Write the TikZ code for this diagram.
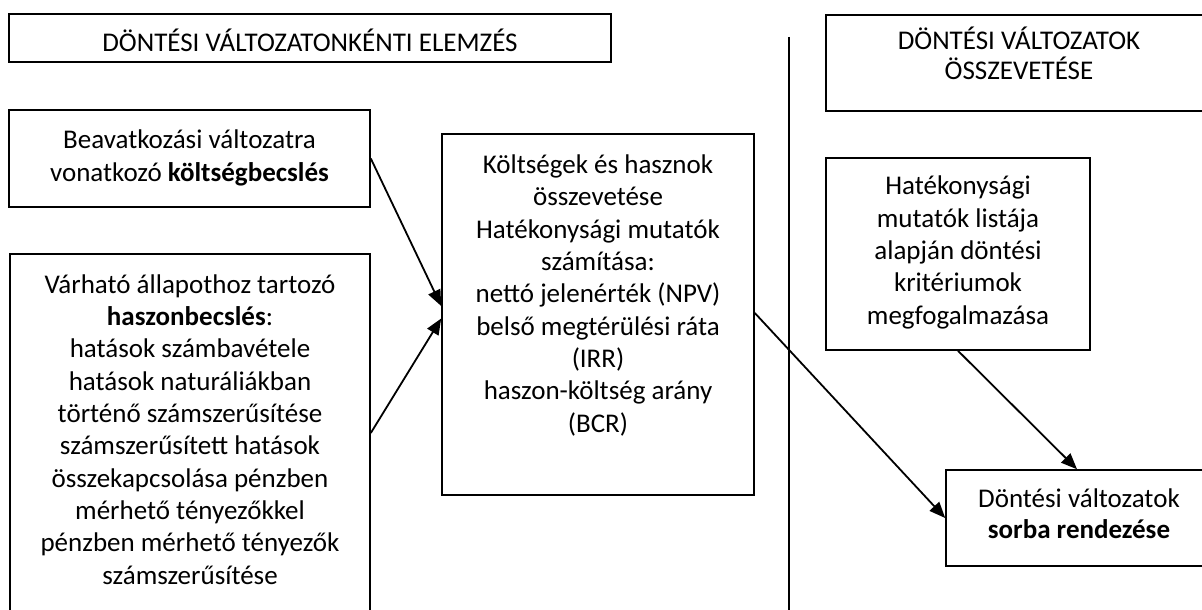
\documentclass[tikz,border=0pt]{standalone}
\usepackage{fontspec}
\setmainfont{Carlito}
\usetikzlibrary{arrows.meta}
\begin{document}
\begin{tikzpicture}[x=1pt,y=-1pt,
  box/.style={draw, line width=1.6pt, rectangle, inner sep=0pt},
  txt/.style={inner sep=0pt, align=center, anchor=base, font=\fontsize{27}{32.3}\selectfont},
  conn/.style={line width=1.8pt, -{Triangle[length=16pt,width=13pt]}},
  divider/.style={line width=1.6pt}]
\useasboundingbox (0,0) rectangle (1202,610);
\clip (0,0) rectangle (1202,610);
% boxes
\node[box, minimum width=602pt, minimum height=48pt] (t1) at (310,38) {};
\node[box, minimum width=361pt, minimum height=97pt] (beav) at (189.5,158.5) {};
\node[box, minimum width=360pt, minimum height=367pt] (varh) at (190,437.5) {};
\node[box, minimum width=312pt, minimum height=361pt] (mid) at (598,314.5) {};
\node[box, minimum width=386pt, minimum height=96pt] (t2) at (1019,63) {};
\node[box, minimum width=264pt, minimum height=192pt] (hat) at (958,254) {};
\node[box, minimum width=266pt, minimum height=96pt] (dont) at (1079,518) {};
% texts (anchor base = last line's baseline)
\node[txt] (t1txt) at (310,52) {DÖNTÉSI VÁLTOZATONKÉNTI ELEMZÉS};
\node[txt] (beavtxt) at (189.5,181) {Beavatkozási változatra\\vonatkozó \textbf{költségbecslés}};
\node[txt] (varhtxt) at (190,584) {Várható állapothoz tartozó\\\textbf{haszonbecslés}:\\hatások számbavétele\\hatások naturáliákban\\történő számszerűsítése\\számszerűsített hatások\\összekapcsolása pénzben\\mérhető tényezőkkel\\pénzben mérhető tényezők\\számszerűsítése};
\node[txt] (midtxt) at (598,432) {Költségek és hasznok\\összevetése\\Hatékonysági mutatók\\számítása:\\nettó jelenérték (NPV)\\belső megtérülési ráta\\(IRR)\\haszon-költség arány\\(BCR)};
\node[txt, font=\fontsize{27}{30}\selectfont] (t2txt) at (1019,80) {DÖNTÉSI VÁLTOZATOK\\ÖSSZEVETÉSE};
\node[txt] (hattxt) at (958,324) {Hatékonysági\\mutatók listája\\alapján döntési\\kritériumok\\megfogalmazása};
\node[txt, font=\fontsize{27}{31}\selectfont] (donttxt) at (1079,538) {Döntési változatok\\\textbf{sorba rendezése}};
% divider
\coordinate (vtop) at (789,37);
\coordinate (vbot) at (789,615);
\draw[divider] (vtop) -- (vbot);
% connectors
\draw[conn] (beav.east) -- ([yshift=8.5pt]mid.west);
\draw[conn] ([yshift=4.5pt]varh.east) -- ([yshift=-4pt]mid.west);
\draw[conn] ([yshift=1.5pt]mid.east) -- (dont.west);
\draw[conn] (hat.south) -- ([xshift=-2pt]dont.north);
\end{tikzpicture}
\end{document}
